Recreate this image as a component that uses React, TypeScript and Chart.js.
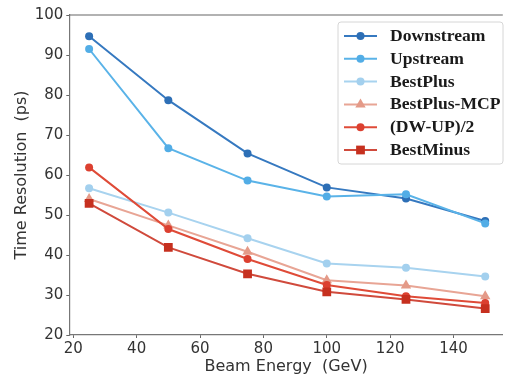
import React, { useEffect, useRef } from "react";
import { Chart, registerables } from "chart.js";

Chart.register(...registerables);

const energies = [25, 50, 75, 100, 125, 150];
const downstream = [94.7, 78.7, 65.4, 56.9, 54.1, 48.5];
const upstream = [91.5, 66.7, 58.6, 54.6, 55.2, 47.9];
const bestPlus = [56.7, 50.6, 44.2, 37.9, 36.8, 34.6];
const bestPlusMCP = [54.0, 47.4, 40.8, 33.7, 32.4, 29.7];
const dwUp2 = [61.9, 46.5, 39.0, 32.5, 29.7, 28.0];
const bestMinus = [52.9, 41.9, 35.3, 30.8, 28.9, 26.6];

const seriesNames = ["Downstream", "Upstream", "BestPlus", "BestPlus-MCP", "(DW-UP)/2", "BestMinus"];
const xTicks = [20, 40, 60, 80, 100, 120, 140];
const yTicks = [20, 30, 40, 50, 60, 70, 80, 90, 100];

const styles = [
  { line: "#3679c0", point: "#2d6fb6", shape: "circle", r: 4 },
  { line: "#5ab3e8", point: "#52ade6", shape: "circle", r: 4 },
  { line: "#a8d3ef", point: "#a3d0ee", shape: "circle", r: 4 },
  { line: "#e8a595", point: "#e49a88", shape: "triangle", r: 6 },
  { line: "#df4b38", point: "#dc4030", shape: "circle", r: 4 },
  { line: "#d04a3c", point: "#c6301f", shape: "rect", r: 6.2 },
];

function drawMarker(ctx: CanvasRenderingContext2D, shape: string, x: number, y: number, r: number, color: string) {
  ctx.save();
  ctx.fillStyle = color;
  ctx.beginPath();
  if (shape === "circle") {
    ctx.arc(x, y, r, 0, Math.PI * 2);
  } else if (shape === "triangle") {
    const s = r * Math.sqrt(3);
    const h = (s * Math.sqrt(3)) / 2;
    ctx.moveTo(x, y - (2 * h) / 3);
    ctx.lineTo(x + s / 2, y + h / 3);
    ctx.lineTo(x - s / 2, y + h / 3);
    ctx.closePath();
  } else {
    const a = r * Math.SQRT1_2;
    ctx.rect(x - a, y - a, 2 * a, 2 * a);
  }
  ctx.fill();
  ctx.restore();
}

const framePlugin = {
  id: "frameAndLegend",
  afterDraw(chart: any) {
    const ctx = chart.ctx as CanvasRenderingContext2D;
    const { left, right, top } = chart.chartArea;
    ctx.save();
    ctx.strokeStyle = "#666";
    ctx.lineWidth = 1.2;
    ctx.beginPath();
    ctx.moveTo(left, top);
    ctx.lineTo(right, top);
    ctx.stroke();

    // legend box
    const bx = 338, by = 22, bw = 165, bh = 142, rad = 3;
    ctx.beginPath();
    ctx.moveTo(bx + rad, by);
    ctx.lineTo(bx + bw - rad, by);
    ctx.quadraticCurveTo(bx + bw, by, bx + bw, by + rad);
    ctx.lineTo(bx + bw, by + bh - rad);
    ctx.quadraticCurveTo(bx + bw, by + bh, bx + bw - rad, by + bh);
    ctx.lineTo(bx + rad, by + bh);
    ctx.quadraticCurveTo(bx, by + bh, bx, by + bh - rad);
    ctx.lineTo(bx, by + rad);
    ctx.quadraticCurveTo(bx, by, bx + rad, by);
    ctx.closePath();
    ctx.fillStyle = "rgba(255,255,255,0.85)";
    ctx.fill();
    ctx.strokeStyle = "#d6d6d6";
    ctx.lineWidth = 1;
    ctx.stroke();

    chart.data.datasets.forEach((ds: any, i: number) => {
      const st = styles[i];
      const y = 36 + i * 22.8;
      ctx.strokeStyle = st.line;
      ctx.lineWidth = 2;
      ctx.beginPath();
      ctx.moveTo(344, y);
      ctx.lineTo(377, y);
      ctx.stroke();
      drawMarker(ctx, st.shape, 360.5, y, st.r, st.point);
      ctx.fillStyle = "#1a1a1a";
      ctx.font = "bold 17.6px 'Liberation Serif', serif";
      ctx.textBaseline = "middle";
      ctx.textAlign = "left";
      ctx.fillText(ds.label, 390, y + 0.5);
    });
    ctx.restore();
  },
};

export default function App() {
  const ref = useRef<HTMLCanvasElement>(null);
  useEffect(() => {
    if (!ref.current) return;
    const all = [downstream, upstream, bestPlus, bestPlusMCP, dwUp2, bestMinus];
    const datasets = all.map((vals, i) => ({
      label: seriesNames[i],
      data: vals.map((v, j) => ({ x: energies[j], y: v })),
      borderColor: styles[i].line,
      backgroundColor: styles[i].point,
      pointBackgroundColor: styles[i].point,
      pointBorderColor: styles[i].point,
      pointBorderWidth: 0,
      pointStyle: styles[i].shape,
      pointRadius: styles[i].r,
      borderWidth: 2,
      tension: 0,
      fill: false,
      order: all.length - 1 - i,
    }));
    const font = { family: "'DejaVu Sans', sans-serif", size: 15 };
    const titleFont = { family: "'DejaVu Sans', sans-serif", size: 16 };
    const chart = new Chart(ref.current, {
      type: "line",
      data: { datasets },
      options: {
        animation: false,
        responsive: false,
        devicePixelRatio: 1,
        layout: { padding: { top: 15, left: 0, right: 0, bottom: 0 } },
        plugins: { legend: { display: false }, tooltip: { enabled: false } },
        scales: {
          x: {
            type: "linear",
            min: 18.75,
            max: 155.55,
            afterBuildTicks: (s: any) => { s.ticks = xTicks.map((v) => ({ value: v })); },
            afterFit: (s: any) => { s.height = 45; },
            ticks: { font, color: "#333", padding: 2, maxRotation: 0, autoSkip: false },
            grid: { drawOnChartArea: false, drawTicks: true, tickLength: 3, color: "#666", lineWidth: 1 },
            border: { display: true, color: "#777", width: 1.2 },
            title: { display: true, text: "Beam Energy  (GeV)", font: titleFont, color: "#333", padding: { top: 0, bottom: 3.5 } },
          },
          y: {
            type: "linear",
            min: 20,
            max: 100,
            afterBuildTicks: (s: any) => { s.ticks = yTicks.map((v) => ({ value: v })); },
            afterFit: (s: any) => { s.width = 69.3; },
            ticks: { font, color: "#333", padding: 3 },
            grid: { drawOnChartArea: false, drawTicks: true, tickLength: 3, color: "#666", lineWidth: 1 },
            border: { display: true, color: "#777", width: 1.2 },
            title: { display: true, text: "Time Resolution  (ps)", font: titleFont, color: "#333", padding: { top: 12, bottom: 0 } },
          },
        },
      },
      plugins: [framePlugin],
    } as any);
    return () => chart.destroy();
  }, []);
  return (
    <div style={{ position: "absolute", left: 0, top: 0, width: 509, height: 380, background: "#fff" }}>
      <canvas ref={ref} width={509} height={380} />
    </div>
  );
}
